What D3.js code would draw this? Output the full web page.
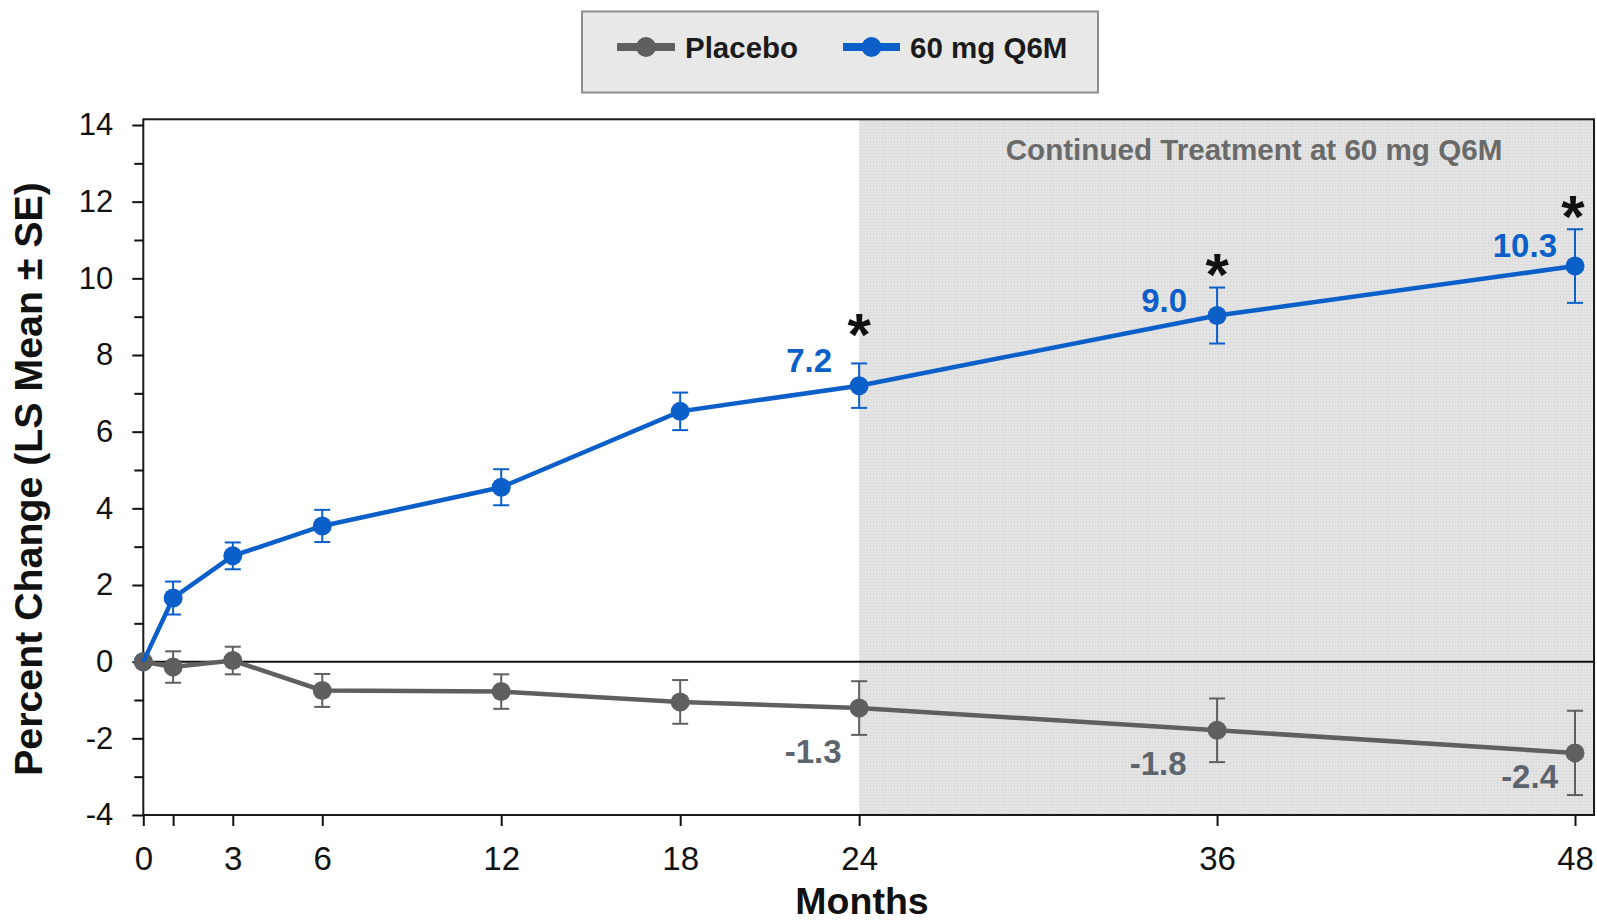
<!DOCTYPE html>
<html>
<head>
<meta charset="utf-8">
<script src="https://cdn.jsdelivr.net/npm/d3@7"></script>
<style>
  html, body { margin: 0; padding: 0; background: #ffffff; }
  svg { display: block; font-family: "Liberation Sans", Arial, sans-serif; }
</style>
</head>
<body>
<svg id="chart" width="1597" height="924"></svg>
<script>
// ---------------- DATA ----------------
const months = [0, 1, 3, 6, 12, 18, 24, 36, 48];
const xTickLabels = ["0", "", "3", "6", "12", "18", "24", "36", "48"];
const yTicks = [-4, -2, 0, 2, 4, 6, 8, 10, 12, 14];
const yTickLabels = ["-4", "-2", "0", "2", "4", "6", "8", "10", "12", "14"];

const seriesNames = ["Placebo", "60 mg Q6M"];
const placeboMean = [0, -0.14, 0.03, -0.75, -0.78, -1.05, -1.21, -1.79, -2.38];
const placeboSE   = [0, 0.41, 0.36, 0.43, 0.45, 0.57, 0.70, 0.83, 1.10];
const dmabMean    = [0, 1.66, 2.76, 3.54, 4.55, 6.53, 7.20, 9.03, 10.32];
const dmabSE      = [0, 0.43, 0.35, 0.42, 0.47, 0.49, 0.58, 0.73, 0.96];

const placeboLabels = ["-1.3", "-1.8", "-2.4"];
const dmabLabels    = ["7.2", "9.0", "10.3"];
const labelMonths   = [24, 36, 48];
const starMonths    = [24, 36, 48];
const shadeStart    = 24;
const shadeText     = "Continued Treatment at 60 mg Q6M";

// ---------------- LAYOUT ----------------
const BLUE = "#0b5fc9", GRAY = "#5f5f5f", LABEL_GRAY = "#5d646e";
const plot = { left: 143.3, right: 1594, top: 119.3, bottom: 815 };
const svg = d3.select("#chart");

const x = d3.scaleLinear().domain([0, 48]).range([143.3, 1575]);
const y = d3.scaleLinear().domain([-4, 14]).range([815, 125]);

// offsets for annotations (layout only)
const dmabLabelOff    = [[-27, -13.7], [-30, -4], [-18, -9.5]];
const placeboLabelOff = [[-17.6, 55], [-30.5, 44.7], [-17, 35.4]];
const starOff         = [[0, -8], [0, 7], [-2, 8]];

// pattern for shaded region
const defs = svg.append("defs");
const pat = defs.append("pattern").attr("id", "grid").attr("patternUnits", "userSpaceOnUse")
  .attr("width", 3).attr("height", 3);
pat.append("rect").attr("width", 3).attr("height", 3).attr("fill", "#e6e6e6");
pat.append("path").attr("d", "M0,0.5H3M0.5,0V3").attr("stroke", "#dddddd").attr("stroke-width", 1);

// shaded area
svg.append("rect")
  .attr("x", x(shadeStart)).attr("y", plot.top)
  .attr("width", plot.right - x(shadeStart)).attr("height", plot.bottom - plot.top)
  .attr("fill", "url(#grid)");

svg.append("text")
  .attr("x", 1254).attr("y", 160)
  .attr("text-anchor", "middle")
  .attr("font-size", 29.6).attr("font-weight", "bold")
  .attr("fill", "#6a6a6a")
  .text(shadeText);

// zero line
svg.append("line")
  .attr("x1", plot.left).attr("x2", plot.right)
  .attr("y1", y(0)).attr("y2", y(0))
  .attr("stroke", "#111").attr("stroke-width", 2);

// frame
svg.append("rect")
  .attr("x", plot.left).attr("y", plot.top)
  .attr("width", plot.right - plot.left).attr("height", plot.bottom - plot.top)
  .attr("fill", "none").attr("stroke", "#1a1a1a").attr("stroke-width", 2);

// y axis (major)
const yAxisG = svg.append("g").attr("transform", `translate(${plot.left},0)`)
  .call(d3.axisLeft(y).tickValues(yTicks).tickSize(11).tickPadding(19)
    .tickFormat((d, i) => yTickLabels[i]));
yAxisG.select(".domain").remove();
yAxisG.selectAll(".tick line").attr("stroke", "#111").attr("stroke-width", 2);
yAxisG.selectAll(".tick text").attr("font-size", 31).attr("fill", "#111")
  .attr("font-family", "'Liberation Sans', Arial, sans-serif");

// y axis (minor)
const yMinor = svg.append("g").attr("transform", `translate(${plot.left},0)`)
  .call(d3.axisLeft(y).tickValues(d3.range(-3, 14, 2)).tickSize(9).tickFormat(""));
yMinor.select(".domain").remove();
yMinor.selectAll(".tick line").attr("stroke", "#111").attr("stroke-width", 2);

// x axis
const xAxisG = svg.append("g").attr("transform", `translate(0,${plot.bottom})`)
  .call(d3.axisBottom(x).tickValues(months).tickSize(11).tickPadding(21)
    .tickFormat((d, i) => xTickLabels[i]));
xAxisG.select(".domain").remove();
xAxisG.selectAll(".tick line").attr("stroke", "#111").attr("stroke-width", 2);
xAxisG.selectAll(".tick text").attr("font-size", 33).attr("fill", "#111")
  .attr("font-family", "'Liberation Sans', Arial, sans-serif");

// axis titles
svg.append("text")
  .attr("transform", "translate(42,479) rotate(-90)")
  .attr("text-anchor", "middle")
  .attr("font-size", 39.3).attr("font-weight", "bold").attr("fill", "#111")
  .text("Percent Change (LS Mean \u00b1 SE)");

svg.append("text")
  .attr("x", 862).attr("y", 914)
  .attr("text-anchor", "middle")
  .attr("font-size", 37.5).attr("font-weight", "bold").attr("fill", "#111")
  .text("Months");

// series data
const pData = months.map((m, i) => ({ m, v: placeboMean[i], se: placeboSE[i] }));
const dData = months.map((m, i) => ({ m, v: dmabMean[i], se: dmabSE[i] }));
const line = d3.line().x(d => x(d.m)).y(d => y(d.v));

function errorBars(g, data, color) {
  const eb = g.selectAll(null).data(data.filter(d => d.se > 0)).enter().append("g")
    .attr("stroke", color).attr("stroke-width", 2);
  eb.append("line").attr("x1", d => x(d.m)).attr("x2", d => x(d.m))
    .attr("y1", d => y(d.v + d.se)).attr("y2", d => y(d.v - d.se));
  eb.append("line").attr("x1", d => x(d.m) - 8).attr("x2", d => x(d.m) + 8)
    .attr("y1", d => y(d.v + d.se)).attr("y2", d => y(d.v + d.se));
  eb.append("line").attr("x1", d => x(d.m) - 8).attr("x2", d => x(d.m) + 8)
    .attr("y1", d => y(d.v - d.se)).attr("y2", d => y(d.v - d.se));
}

// blue marker at baseline, hidden under placebo
const gB0 = svg.append("g");
gB0.selectAll(null).data(dData.filter(d => d.m === 0)).enter().append("circle")
  .attr("cx", d => x(d.m)).attr("cy", d => y(d.v)).attr("r", 9.5).attr("fill", BLUE);

// placebo
const gP = svg.append("g");
gP.append("path").datum(pData).attr("d", line).attr("fill", "none")
  .attr("stroke", GRAY).attr("stroke-width", 4.5);
errorBars(gP, pData, GRAY);
gP.selectAll(null).data(pData).enter().append("circle")
  .attr("cx", d => x(d.m)).attr("cy", d => y(d.v)).attr("r", 9.5).attr("fill", GRAY);

// 60 mg
const gD = svg.append("g");
gD.append("path").datum(dData).attr("d", line).attr("fill", "none")
  .attr("stroke", BLUE).attr("stroke-width", 4.5);
errorBars(gD, dData, BLUE);
gD.selectAll(null).data(dData.filter(d => d.m > 0)).enter().append("circle")
  .attr("cx", d => x(d.m)).attr("cy", d => y(d.v)).attr("r", 9.5).attr("fill", BLUE);

// value labels
labelMonths.forEach((m, i) => {
  const idx = months.indexOf(m);
  svg.append("text")
    .attr("x", x(m) + dmabLabelOff[i][0]).attr("y", y(dmabMean[idx]) + dmabLabelOff[i][1])
    .attr("text-anchor", "end").attr("font-size", 33).attr("font-weight", "bold")
    .attr("fill", BLUE).text(dmabLabels[i]);
  svg.append("text")
    .attr("x", x(m) + placeboLabelOff[i][0]).attr("y", y(placeboMean[idx]) + placeboLabelOff[i][1])
    .attr("text-anchor", "end").attr("font-size", 33).attr("font-weight", "bold")
    .attr("fill", LABEL_GRAY).text(placeboLabels[i]);
});

// significance stars
starMonths.forEach((m, i) => {
  const idx = months.indexOf(m);
  svg.append("text")
    .attr("x", x(m) + starOff[i][0]).attr("y", y(dmabMean[idx] + dmabSE[idx]) + starOff[i][1])
    .attr("text-anchor", "middle").attr("font-size", 60).attr("font-weight", "bold")
    .attr("fill", "#111").text("*");
});

// legend
const leg = svg.append("g");
leg.append("rect").attr("x", 582).attr("y", 11.5).attr("width", 516).attr("height", 81)
  .attr("fill", "#e8e8e8").attr("stroke", "#8c8c8c").attr("stroke-width", 2);
const legItems = [
  { name: seriesNames[0], color: GRAY, x1: 617, x2: 675, tx: 685 },
  { name: seriesNames[1], color: BLUE, x1: 843, x2: 900, tx: 910 }
];
legItems.forEach(it => {
  leg.append("line").attr("x1", it.x1).attr("x2", it.x2).attr("y1", 47).attr("y2", 47)
    .attr("stroke", it.color).attr("stroke-width", 8);
  leg.append("circle").attr("cx", (it.x1 + it.x2) / 2).attr("cy", 47).attr("r", 10).attr("fill", it.color);
  leg.append("text").attr("x", it.tx).attr("y", 58.3).attr("font-size", 29.5)
    .attr("font-weight", "bold").attr("fill", "#1b1b1b").text(it.name);
});
</script>
</body>
</html>
